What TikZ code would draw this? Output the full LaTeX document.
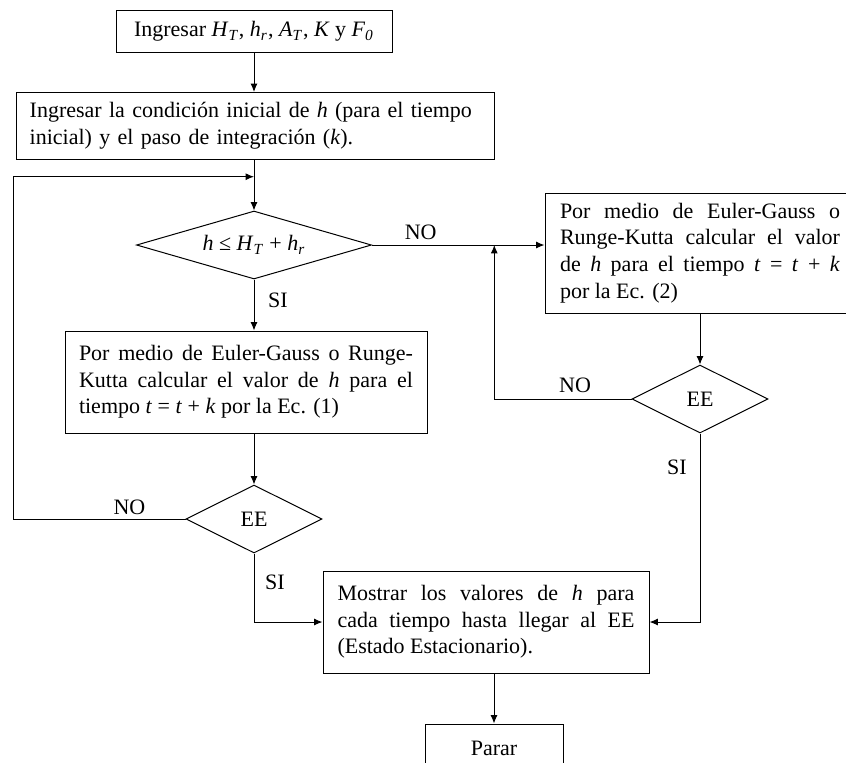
\documentclass[tikz,border=0pt]{standalone}
\usepackage{fontspec}
\setmainfont{Liberation Serif}
\usetikzlibrary{arrows.meta,shapes.geometric}
\newcommand{\iv}[1]{\textit{#1}}
\newcommand{\isub}[2]{\textit{#1}\textsubscript{\textit{#2}}}

\begin{document}
\begin{tikzpicture}[x=0.5pt,y=-0.5pt,line width=0.5pt,
  font=\fontsize{11}{13.3}\selectfont,
  >={Latex[length=4.2pt,width=3.5pt]},
  procbox/.style={draw,rectangle,inner sep=0pt},
  decbox/.style={draw,diamond,inner sep=0pt},
  tagtext/.style={inner sep=0pt}]
\useasboundingbox (0,0) rectangle (846,762);

\node[procbox,minimum width=138pt,minimum height=21pt] (datos) at (254,31.5)
{Ingresar \isub{H}{T}, \isub{h}{r}, \isub{A}{T}, \iv{K} y \isub{F}{0}};

\node[procbox,minimum width=239pt,minimum height=33.5pt,text width=226pt,align=left] (inicial) at (255.7,126)
{Ingresar la condición inicial de \iv{h} (para el tiempo\\ inicial) y el paso de integración (\iv{k}).};

\node[decbox,aspect=3.5,minimum width=117.5pt,minimum height=34pt] (cond) at (254,245)
{\iv{h} ≤ \isub{H}{T} + \isub{h}{r}};

\node[procbox,minimum width=155pt,minimum height=60pt,text width=140pt,align=justify] (metodo2) at (700,253)
{Por medio de Euler-Gauss o\linebreak Runge-Kutta calcular el valor\linebreak de \iv{h} para el tiempo \iv{t} = \iv{t} + \iv{k}\linebreak por la Ec. (2)};

\node[procbox,minimum width=181pt,minimum height=51pt,text width=167pt,align=justify] (metodo1) at (246,382)
{Por medio de Euler-Gauss o Runge-\linebreak Kutta calcular el valor de \iv{h} para el\linebreak tiempo \iv{t} = \iv{t} + \iv{k} por la Ec. (1)};

\node[decbox,aspect=2,minimum width=68pt,minimum height=34pt] (ee2) at (700,399) {EE};

\node[decbox,aspect=2,minimum width=68pt,minimum height=34pt] (ee1) at (254,519) {EE};

\node[procbox,minimum width=163pt,minimum height=51pt,text width=148.5pt,align=justify] (mostrar) at (486,622)
{Mostrar los valores de \iv{h} para\linebreak cada tiempo hasta llegar al EE\linebreak (Estado Estacionario).};

\node[procbox,minimum width=69pt,minimum height=24pt] (parar) at (494,748) {Parar};

\node[tagtext] (no1) at (420.7,232) {NO};
\node[tagtext] (si1) at (278,300) {SI};
\node[tagtext] (no2) at (575,385) {NO};
\node[tagtext] (si2) at (677,467) {SI};
\node[tagtext] (no3) at (129.5,507) {NO};
\node[tagtext] (si3) at (275,582) {SI};

\coordinate (retorno) at (254,176.7);
\coordinate (esquina) at (13.5,176.7);
\coordinate (union) at (494.3,245);

\draw[->] (datos.south) -- (datos.south |- inicial.north);

\draw[->] (cond.north |- inicial.south) -- (cond.north);

\draw[->] (ee1.west) -| (esquina) -- (retorno);

\draw[->] (cond.east) -- (cond.east -| metodo2.west);

\draw[->] (cond.south) -- (cond.south |- metodo1.north);

\draw[->] (metodo2.south) -- (ee2.north);

\draw[->] (ee2.west) -| (union);

\draw[->] (ee1.north |- metodo1.south) -- (ee1.north);

\draw[->] (ee1.south) |- (mostrar.west);

\draw[->] (ee2.south) |- (mostrar.east);

\draw[->] (parar.north |- mostrar.south) -- (parar.north);
\end{tikzpicture}
\end{document}
